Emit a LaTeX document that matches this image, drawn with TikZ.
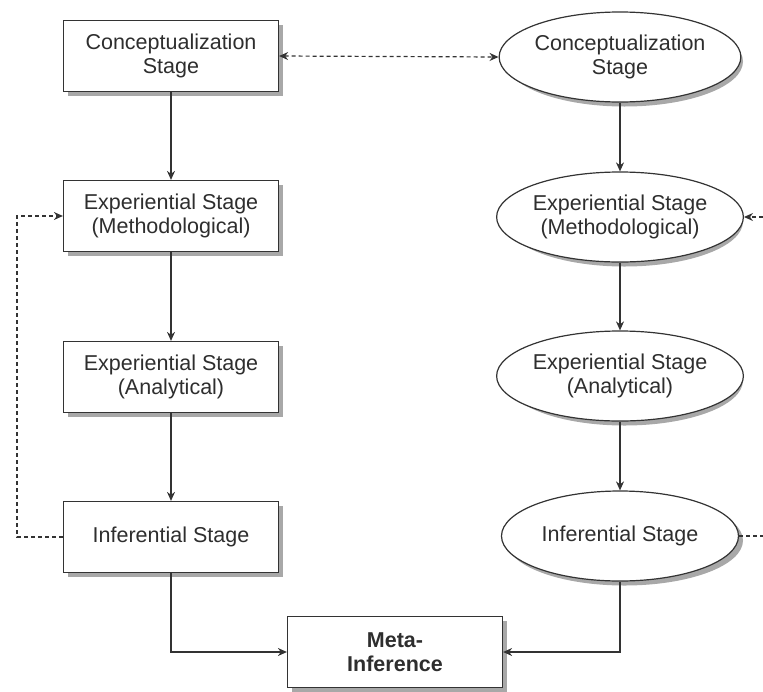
\documentclass[tikz,border=0pt]{standalone}
\usepackage{fontspec}
\setmainfont{Liberation Sans}
\usetikzlibrary{shapes.geometric,arrows.meta}
\definecolor{ln}{HTML}{333333}
\definecolor{tx}{HTML}{2E2E2E}
\definecolor{shc}{HTML}{A8A8A8}
\tikzset{
  stagebox/.style={draw=ln,line width=1.2pt,fill=white,rectangle,minimum width=215pt,minimum height=71pt,inner sep=0pt,align=center,text=tx,font=\fontsize{21.5}{23.5}\selectfont},
  stageell/.style={draw=ln,line width=1.2pt,fill=white,ellipse,minimum width=237pt,minimum height=90pt,inner sep=0pt,align=center,text=tx,font=\fontsize{21.5}{23.5}\selectfont},
  flow/.style={draw=ln,line width=1.2pt,-{Stealth[length=9pt,width=8pt]}},
  dflow/.style={draw=ln,line width=1.2pt,dash pattern=on 4pt off 3pt},
  shadowfill/.style={fill=shc,draw=none}
}
\begin{document}
\begin{tikzpicture}[x=1pt,y=-1pt]
\useasboundingbox (0,0) rectangle (763,691);
\foreach \cx/\cy in {171/56,171/216,171/377,171/537,395/652}
  \fill[shadowfill] (\cx-103,\cy-31) rectangle (\cx+112,\cy+40);
\foreach \cy in {57,217,376,536}
  \fill[shadowfill] (624.5,\cy+4.5) ellipse [x radius=118.5pt, y radius=45pt];
\node[stagebox] (b1) at (171,56) {Conceptualization\\Stage};
\node[stagebox] (b2) at (171,216) {Experiential Stage\\(Methodological)};
\node[stagebox] (b3) at (171,377) {Experiential Stage\\(Analytical)};
\node[stagebox] (b4) at (171,537) {Inferential Stage};
\node[stagebox,font=\bfseries\fontsize{21.5}{23.5}\selectfont] (meta) at (395,652) {Meta-\\Inference};
\node[stageell] (e1) at (620,57) {Conceptualization\\Stage};
\node[stageell] (e2) at (620,217) {Experiential Stage\\(Methodological)};
\node[stageell] (e3) at (620,376) {Experiential Stage\\(Analytical)};
\node[stageell] (e4) at (620,536) {Inferential Stage};
\coordinate (lf) at (17,537);
\coordinate (rf1) at (763,536);
\coordinate (rf2) at (763,217);
\draw[flow] (b1) -- (b2);
\draw[flow] (b2) -- (b3);
\draw[flow] (b3) -- (b4);
\draw[flow] (e1) -- (e2);
\draw[flow] (e2) -- (e3);
\draw[flow] (e3) -- (e4);
\draw[flow] (b4.south) |- (meta.west);
\draw[flow] (e4.south) |- (meta.east);
\draw[dflow,{Stealth[length=9pt,width=8pt]}-{Stealth[length=9pt,width=8pt]}] (b1.east) -- (e1.west);
\draw[dflow,-{Stealth[length=9pt,width=8pt]}] (b4.west) -- (lf) |- (b2.west);
\draw[dflow] (e4.east) -- (rf1);
\draw[dflow,-{Stealth[length=9pt,width=8pt]}] (rf2) -- (e2.east);
\end{tikzpicture}
\end{document}
